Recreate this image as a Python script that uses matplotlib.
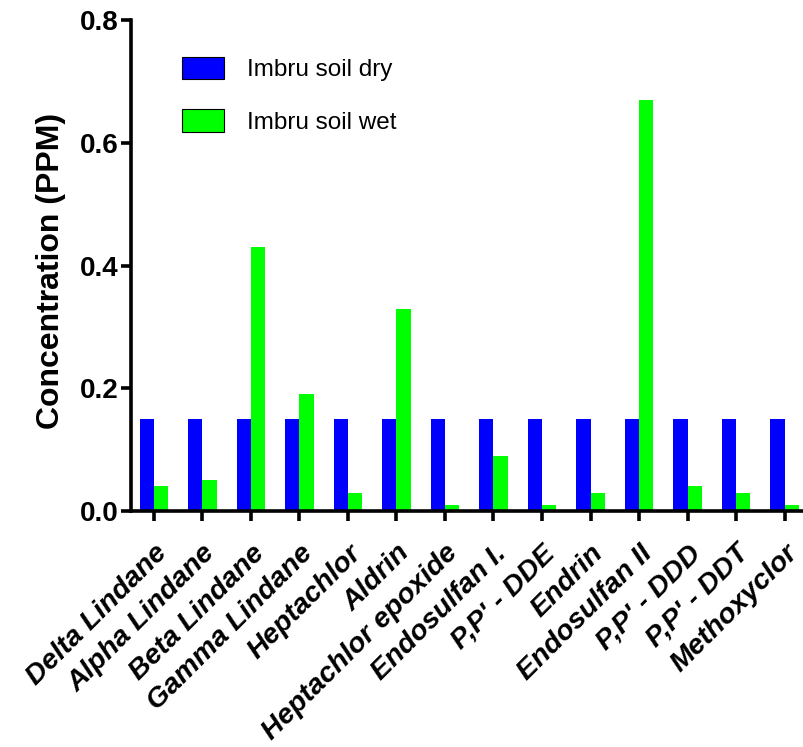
import matplotlib
matplotlib.use("Agg")
import matplotlib.pyplot as plt
import numpy as np

# 農藥殘留濃度（PPM）
compounds = [
    "Delta Lindane", "Alpha Lindane", "Beta Lindane", "Gamma Lindane",
    "Heptachlor", "Aldrin", "Heptachlor epoxide", "Endosulfan I.",
    "P,P' - DDE", "Endrin", "Endosulfan II", "P,P' - DDD",
    "P,P' - DDT", "Methoxyclor",
]
soil_dry = [0.15, 0.15, 0.15, 0.15, 0.15, 0.15, 0.15,
            0.15, 0.15, 0.15, 0.15, 0.15, 0.15, 0.15]
soil_wet = [0.04, 0.05, 0.43, 0.19, 0.03, 0.33, 0.01,
            0.09, 0.01, 0.03, 0.67, 0.04, 0.03, 0.01]
y_ticks = [0.0, 0.2, 0.4, 0.6, 0.8]

plt.rcParams["font.family"] = ["Liberation Sans", "DejaVu Sans"]

fig = plt.figure(figsize=(8.04, 7.47), dpi=100)
ax = fig.add_axes([0.163, 0.316, 0.837, 0.657])

x = np.arange(len(compounds))
w = 0.295
ax.bar(x - w / 2, soil_dry, width=w, color="#0000FF", label="Imbru soil dry")
ax.bar(x + w / 2, soil_wet, width=w, color="#00FF00", label="Imbru soil wet")

ax.set_xlim(-0.47, len(compounds) - 1 + 0.4)
ax.set_ylim(0, 0.8)
ax.set_yticks(y_ticks)
ax.set_yticklabels([f"{v:.1f}" for v in y_ticks], fontsize=20, fontweight="bold")
ax.set_xticks(x)
ax.set_xticklabels(compounds, rotation=45, ha="right", rotation_mode="anchor",
                   fontsize=20.5, fontweight="bold", fontstyle="italic")

for side in ("top", "right"):
    ax.spines[side].set_visible(False)
for side in ("left", "bottom"):
    ax.spines[side].set_linewidth(2.6)
ax.tick_params(axis="both", width=2.6, length=7, direction="out")
ax.tick_params(axis="y", pad=2)
ax.tick_params(axis="x", pad=14)

ax.set_ylabel("Concentration (PPM)", fontsize=23, fontweight="bold")
ax.yaxis.set_label_coords(-0.096, 0.49)

leg = ax.legend(loc="upper left", bbox_to_anchor=(0.043, 0.97), frameon=False,
                fontsize=17.5, handlelength=1.75, handleheight=1.05,
                labelspacing=1.15, handletextpad=0.95)
for patch in leg.get_patches():
    patch.set_edgecolor("black")
    patch.set_linewidth(0.8)

fig.savefig("out.png", dpi=100)
